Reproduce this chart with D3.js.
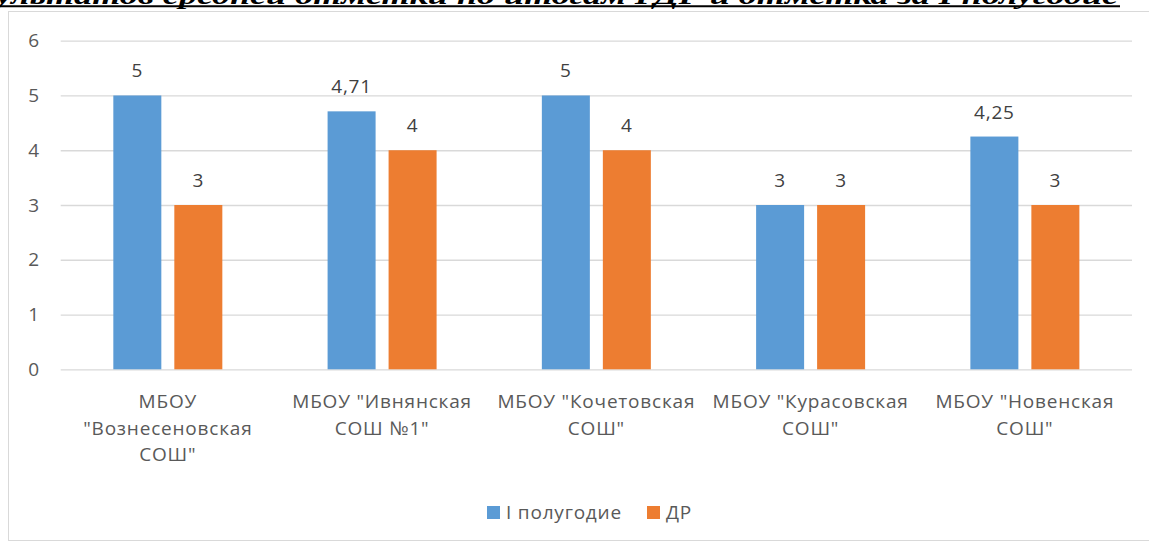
<!DOCTYPE html>
<html>
<head>
<meta charset="utf-8">
<script src="https://cdn.jsdelivr.net/npm/d3@7"></script>
<style>
body { margin: 0; background: #fff; overflow: hidden; }
svg { display: block; font-family: "Open Sans", sans-serif; }
</style>
</head>
<body>
<svg width="1149" height="543"></svg>
<script>
var categories = ['МБОУ "Вознесеновская СОШ"', 'МБОУ "Ивнянская СОШ №1"', 'МБОУ "Кочетовская СОШ"', 'МБОУ "Курасовская СОШ"', 'МБОУ "Новенская СОШ"'];
var seriesNames = ["I полугодие", "ДР"];
var halfYear = [5, 4.71, 5, 3, 4.25];
var gdr = [3, 4, 4, 3, 3];
var yTicks = [0, 1, 2, 3, 4, 5, 6];
var colors = ["#5B9BD5", "#ED7D31"];
var titleText = "ультатов средней отметки по итогам ГДР  и отметка за I полугодие";

var svg = d3.select("svg"),
  plotL = 60.7, plotR = 1132, plotT = 40.7, plotB = 369.3,
  fs = 19, ls = 0.8;

// chart frame
svg.append("rect")
  .attr("x", 8.5).attr("y", 11.5)
  .attr("width", 1160).attr("height", 529)
  .attr("fill", "#fff")
  .attr("stroke", "#d9d9d9");

// clipped title from the document above
svg.append("text")
  .attr("x", -4).attr("y", 4)
  .attr("textLength", 1122)
  .attr("lengthAdjust", "spacingAndGlyphs")
  .attr("font-family", "Liberation Serif")
  .attr("font-style", "italic")
  .attr("font-weight", "bold")
  .attr("font-size", 26)
  .attr("fill", "#000")
  .text(titleText);
svg.append("line")
  .attr("x1", 0).attr("x2", 1120)
  .attr("y1", 6.3).attr("y2", 6.3)
  .attr("stroke", "#000").attr("stroke-width", 2);

var x0 = d3.scaleBand().domain(categories).range([plotL, plotR]).padding(0);
var x1 = d3.scaleBand().domain(seriesNames)
  .range([x0.bandwidth() / 2 - 54.5, x0.bandwidth() / 2 + 54.5])
  .paddingInner(0.213).paddingOuter(0);
var y = d3.scaleLinear().domain([0, 6]).range([plotB, plotT]);

var g = svg.append("g");

// gridlines
g.append("g")
  .attr("transform", "translate(" + plotL + ",0)")
  .call(d3.axisLeft(y).tickValues(yTicks).tickSize(-(plotR - plotL)).tickFormat(""))
  .call(function(a) { a.select(".domain").remove(); })
  .selectAll("line")
  .attr("stroke", "#d9d9d9")
  .attr("stroke-width", 1.3);

// y labels
g.append("g")
  .attr("transform", "translate(39,0)")
  .call(d3.axisLeft(y).tickValues(yTicks).tickSize(0).tickPadding(0).tickFormat(d3.format("d")))
  .call(function(a) { a.select(".domain").remove(); })
  .selectAll("text")
  .attr("font-family", "Open Sans")
  .attr("font-size", fs)
  .attr("fill", "#595959");

var data = categories.map(function(c, i) {
  return { cat: c, vals: [
    { name: seriesNames[0], v: halfYear[i], c: colors[0] },
    { name: seriesNames[1], v: gdr[i], c: colors[1] }
  ] };
});

var fmt = function(v) { return String(v).replace(".", ","); };

var groups = g.selectAll(".grp").data(data).enter().append("g")
  .attr("transform", function(d) { return "translate(" + x0(d.cat) + ",0)"; });

groups.selectAll("rect").data(function(d) { return d.vals; }).enter().append("rect")
  .attr("x", function(d) { return x1(d.name); })
  .attr("width", x1.bandwidth())
  .attr("y", function(d) { return y(d.v); })
  .attr("height", function(d) { return plotB - y(d.v); })
  .attr("fill", function(d) { return d.c; });

groups.selectAll(".lbl").data(function(d) { return d.vals; }).enter().append("text")
  .attr("x", function(d) { return x1(d.name) + x1.bandwidth() / 2; })
  .attr("y", function(d) { return y(d.v) - 18; })
  .attr("text-anchor", "middle")
  .attr("font-size", fs)
  .attr("letter-spacing", ls)
  .attr("fill", "#404040")
  .text(function(d) { return fmt(d.v); });

// category labels, wrapped like excel does
groups.append("text")
  .attr("text-anchor", "middle")
  .attr("font-size", fs)
  .attr("letter-spacing", ls)
  .attr("fill", "#595959")
  .each(function(d) {
    var t = d3.select(this), words = d.cat.split(" "), lines = [], line = "";
    var probe = t.append("tspan");
    words.forEach(function(w) {
      var test = line ? line + " " + w : w;
      probe.text(test);
      if (line && probe.node().getComputedTextLength() > 205) {
        lines.push(line);
        line = w;
      } else {
        line = test;
      }
    });
    lines.push(line);
    probe.remove();
    lines.forEach(function(l, i) {
      t.append("tspan")
        .attr("x", x0.bandwidth() / 2)
        .attr("y", 408 + i * 26.5)
        .text(l);
    });
  });

// legend
var legend = svg.append("g");
var legX = [487, 647];
seriesNames.forEach(function(s, i) {
  legend.append("rect")
    .attr("x", legX[i]).attr("y", 506)
    .attr("width", 13).attr("height", 13)
    .attr("fill", colors[i]);
  legend.append("text")
    .attr("x", legX[i] + 19).attr("y", 519)
    .attr("font-size", fs)
    .attr("letter-spacing", ls)
    .attr("fill", "#595959")
    .text(s);
});
</script>
</body>
</html>
